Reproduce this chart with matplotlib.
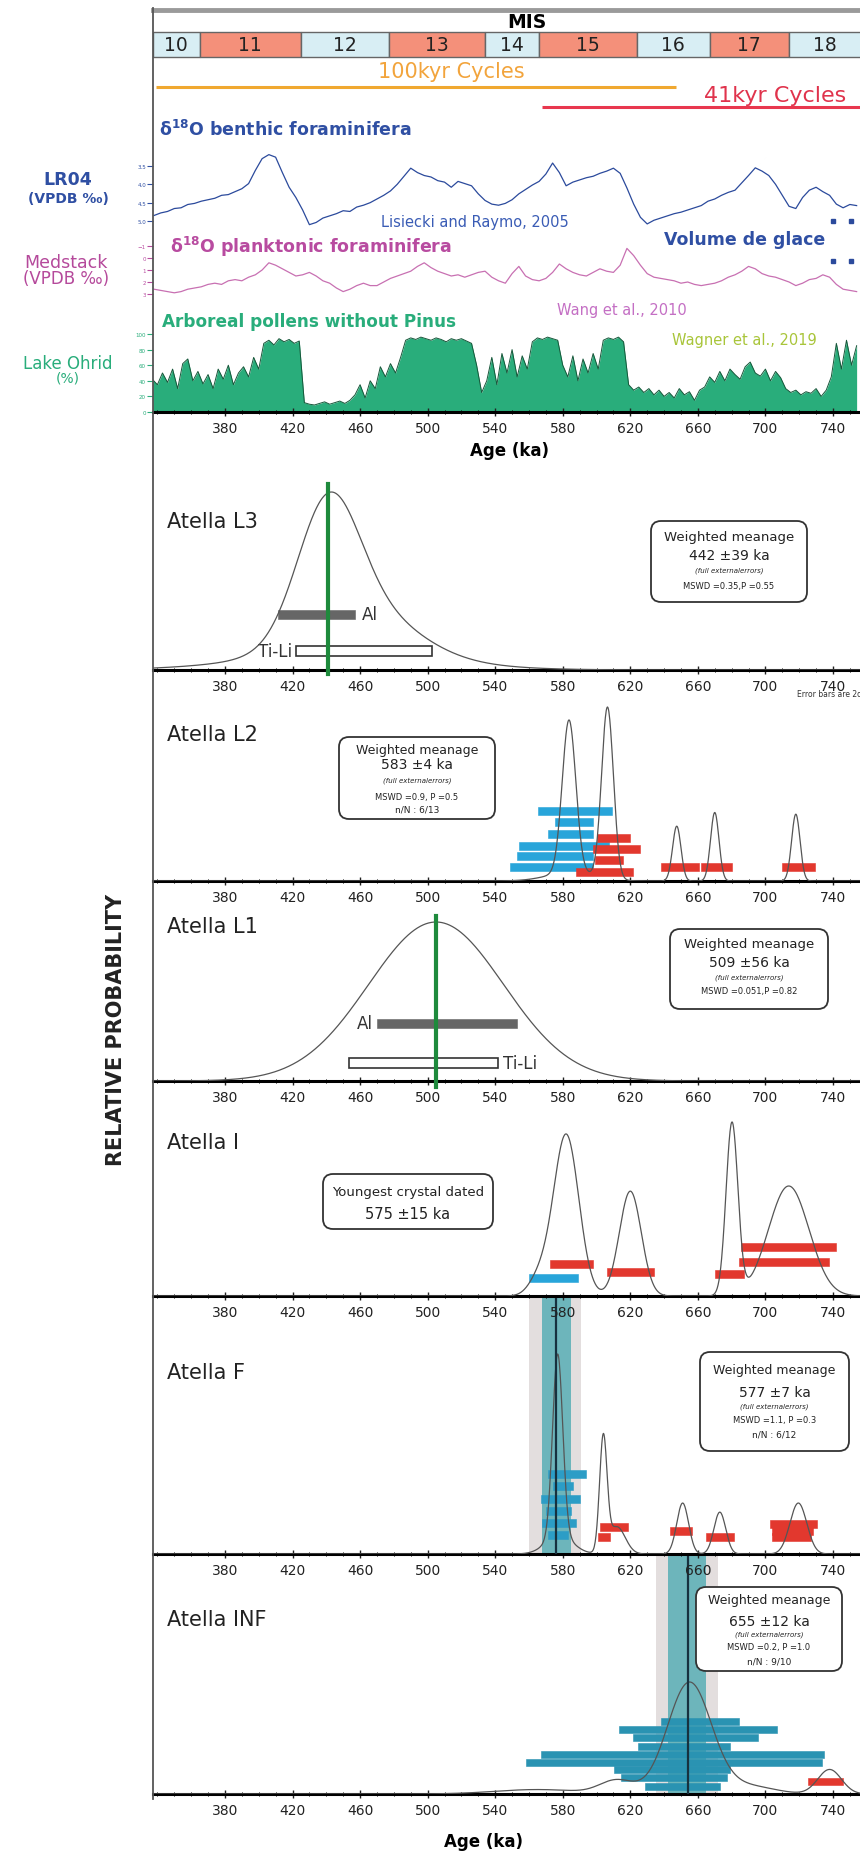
import numpy as np
import matplotlib
matplotlib.use("Agg")
import matplotlib.pyplot as plt
from matplotlib.patches import FancyBboxPatch, Rectangle
from matplotlib.ticker import FixedLocator, MultipleLocator

plt.rcParams["font.family"] = ["DejaVu Sans"]
plt.rcParams["mathtext.fontset"] = "dejavusans"

W, H = 860, 1856
X0, X1 = 337.4, 756.0      # ages at the left axis line and at the right edge

# ---------------- data ----------------
mis_bounds = [337.4, 365, 425, 477, 534, 566, 624, 667, 714, 770]
mis_labels = ["10", "11", "12", "13", "14", "15", "16", "17", "18"]
cycles_100 = [339, 647]
cycles_41 = [568, 760]

lr04_age = np.arange(338, 755, 4)
lr04_d18o = [4.85, 4.78, 4.74, 4.66, 4.64, 4.55, 4.52, 4.46, 4.42, 4.38,
             4.30, 4.28, 4.20, 4.12, 3.98, 3.62, 3.30, 3.19, 3.26, 3.68,
             4.08, 4.36, 4.70, 5.10, 5.04, 4.92, 4.86, 4.80, 4.72, 4.74,
             4.62, 4.57, 4.50, 4.40, 4.30, 4.18, 4.00, 3.78, 3.56, 3.68,
             3.76, 3.80, 3.90, 3.94, 4.08, 3.92, 3.98, 4.04, 4.26, 4.44,
             4.54, 4.57, 4.52, 4.42, 4.26, 4.14, 4.02, 3.92, 3.72, 3.42,
             3.68, 4.04, 3.94, 3.88, 3.82, 3.78, 3.70, 3.64, 3.56, 3.70,
             4.10, 4.54, 4.90, 5.08, 4.98, 4.92, 4.86, 4.80, 4.76, 4.70,
             4.64, 4.58, 4.46, 4.40, 4.30, 4.22, 4.16, 3.96, 3.76, 3.55,
             3.64, 3.76, 4.00, 4.30, 4.60, 4.66, 4.36, 4.16, 4.08, 4.20,
             4.30, 4.54, 4.64, 4.55, 4.58]

med_age = np.arange(338, 755, 4)
med_d18o = [2.6, 2.7, 2.8, 2.9, 2.8, 2.6, 2.5, 2.4, 2.2, 2.1,
            2.2, 1.9, 1.8, 1.9, 1.6, 1.4, 1.0, 0.4, 0.6, 0.9,
            1.2, 1.5, 1.4, 1.2, 1.5, 1.9, 2.1, 2.5, 2.8, 2.6,
            2.3, 2.1, 2.3, 2.3, 2.0, 1.7, 1.5, 1.3, 1.1, 0.7,
            0.4, 0.8, 1.1, 1.3, 1.5, 1.4, 1.6, 1.4, 1.2, 1.1,
            1.6, 1.9, 2.1, 1.3, 0.7, 1.5, 1.8, 1.9, 1.7, 1.2,
            0.5, 0.9, 1.2, 1.4, 1.5, 1.2, 0.9, 1.1, 1.2, 0.6,
            -0.8, -0.2, 0.6, 1.3, 1.6, 1.7, 1.8, 1.9, 2.1, 2.0,
            2.2, 2.3, 2.2, 2.1, 1.9, 1.6, 1.4, 1.1, 0.7, 0.9,
            1.3, 1.5, 1.6, 1.8, 2.0, 2.3, 2.1, 1.8, 1.7, 1.4,
            1.6, 2.2, 2.6, 2.7, 2.8]

pollen_age = np.arange(337, 755, 3)
pollen_ap = [42, 35, 50, 38, 55, 30, 62, 68, 40, 52,
             36, 48, 30, 55, 42, 60, 35, 50, 58, 45,
             70, 55, 88, 92, 86, 94, 90, 93, 88, 91,
             12, 10, 9, 11, 13, 10, 12, 14, 11, 15,
             22, 35, 18, 40, 30, 58, 45, 62, 50, 70,
             92, 95, 93, 96, 94, 92, 95, 93, 90, 94,
             92, 94, 91, 88, 60, 25, 40, 70, 35, 75,
             50, 80, 45, 72, 55, 90, 95, 93, 96, 94,
             92, 60, 45, 72, 40, 68, 50, 75, 55, 92,
             95, 93, 96, 90, 35, 28, 32, 25, 30, 22,
             28, 20, 25, 18, 30, 22, 26, 15, 28, 32,
             45, 38, 52, 40, 55, 48, 42, 58, 64, 50,
             46, 55, 40, 52, 44, 30, 25, 28, 22, 26,
             24, 30, 20, 28, 45, 88, 55, 92, 60, 85]

age_ticks = [380, 420, 460, 500, 540, 580, 620, 660, 700, 740]

# probability peaks: (age, sigma, relative height)
l3_peaks = [(441, 18, 0.8), (462, 30, 0.28), (450, 55, 0.1)]
l2_peaks = [(583.7, 4.0, 0.89), (606.5, 3.5, 1.0), (647.5, 2.5, 0.32),
            (670, 2.5, 0.40), (718, 2.5, 0.39), (585, 14, 0.05)]
l1_peaks = [(505, 40, 1.0)]
i_peaks = [(582, 7.5, 0.94), (566, 6, 0.1), (620, 6.5, 0.61),
           (680.2, 3.5, 1.0), (713.8, 12, 0.64)]
f_peaks = [(577, 3.0, 1.0), (578, 8, 0.10), (604, 2.2, 0.62), (612, 5, 0.15),
           (651, 3.5, 0.28), (673, 3.5, 0.23), (719.5, 5, 0.28)]
inf_peaks = [(655, 13, 1.0), (612, 10, 0.12), (565, 25, 0.04),
             (690, 15, 0.07), (738, 7, 0.22)]

# single ages (2 sigma spans)
l3_al, l3_tili, l3_mean = (411.6, 456.9), (421.9, 502.5), 441
l1_al, l1_tili, l1_mean = (470.3, 552.9), (453.5, 541.7), 505

l2_cyan = [(565.5, 608.9), (575.3, 597.7), (571.1, 597.7), (554.3, 607.5),
           (552.9, 597.7), (548.7, 597.7)]
l2_red = [(600.5, 620.0), (597.7, 625.7), (599.1, 615.9), (587.9, 621.5),
          (638.3, 660.7), (662.0, 680.2), (709.6, 729.2)]
i_cyan = [(559.9, 589.3)]
i_red = [(572.5, 597.7), (606.1, 634.1), (670.4, 687.2), (685.8, 741.8),
         (684.4, 737.6)]
f_cyan = [(571, 593.5), (574, 586), (567, 590), (570, 585), (568, 588), (571, 583)]
f_red = [(601.9, 618.7), (601, 608), (643.8, 656.4), (664.8, 681.6),
         (702.6, 730.6), (704, 728), (704, 727)]
inf_cyan = [(638.3, 684.4), (613.1, 706.8), (621.5, 695.6), (624.3, 678.9),
            (566.9, 734.8), (558.5, 733.4), (610.3, 678.9), (614.5, 677.4),
            (628.5, 673.2)]
inf_red = [(725, 746)]

f_mean, f_band, f_band2 = 576, (560, 591), (567.5, 585)
inf_mean, inf_band, inf_band2 = 654, (635.5, 672), (642.5, 665)

l3_box = ["Weighted meanage", "442 ±39 ka", "(full externalerrors)", "MSWD =0.35,P =0.55"]
l2_box = ["Weighted meanage", "583 ±4 ka", "(full externalerrors)", "MSWD =0.9, P =0.5", "n/N : 6/13"]
l1_box = ["Weighted meanage", "509 ±56 ka", "(full externalerrors)", "MSWD =0.051,P =0.82"]
i_box = ["Youngest crystal dated", "575 ±15 ka"]
f_box = ["Weighted meanage", "577 ±7 ka", "(full externalerrors)", "MSWD =1.1, P =0.3", "n/N : 6/12"]
inf_box = ["Weighted meanage", "655 ±12 ka", "(full externalerrors)", "MSWD =0.2, P =1.0", "n/N : 9/10"]

panel_names = ["Atella L3", "Atella L2", "Atella L1", "Atella I", "Atella F", "Atella INF"]

# ---------------- layout (pixels) ----------------
panel_top = [455, 700, 898, 1100, 1299, 1557]
panel_axis = [671, 882, 1082, 1297, 1555, 1795]
panel_peak = [493, 708, 923, 1123, 1355, 1683]
title_y = [522, 735, 927, 1143, 1373, 1620]

CYAN = "#28A5DA"
RED = "#E2382E"
BLUE = "#2F4FA3"
PINK = "#B84BA0"
GREEN = "#29AD7B"

fig = plt.figure(figsize=(W / 100, H / 100), dpi=100)


def px_axes(top, bottom, left=153, right=860):
    return fig.add_axes([left / W, 1 - bottom / H, (right - left) / W, (bottom - top) / H])


def style_age_axis(ax):
    for s in ("top", "right", "left"):
        ax.spines[s].set_visible(False)
    ax.spines["bottom"].set_linewidth(2.2)
    ax.xaxis.set_major_locator(FixedLocator(age_ticks))
    ax.xaxis.set_minor_locator(MultipleLocator(10))
    ax.tick_params(axis="x", which="major", direction="inout", length=6, width=1,
                   labelsize=10, pad=3.5, colors="#222222")
    ax.tick_params(axis="x", which="minor", direction="inout", length=3.5, width=0.7)
    ax.set_yticks([])
    ax.set_xlim(X0, X1)
    ax.patch.set_alpha(0)


def pdf_curve(peaks):
    grid = np.linspace(X0, X1, 1600)
    dens = np.zeros_like(grid)
    for mu, sd, h in peaks:
        dens += h * np.exp(-0.5 * ((grid - mu) / sd) ** 2)
    return grid, dens / dens.max()


def bars(ax, spans, levels, color, height=8, ec=None, lw=0.4):
    lo = np.array([s[0] for s in spans])
    hi = np.array([s[1] for s in spans])
    ax.barh(levels, hi - lo, left=lo, height=height, color=color,
            edgecolor=ec if ec else color, linewidth=lw, zorder=4)


# overlay in pixel units for frame, texts and boxes
ov = fig.add_axes([0, 0, 1, 1], zorder=50)
ov.set_xlim(0, W)
ov.set_ylim(H, 0)
ov.axis("off")
ov.patch.set_alpha(0)


def info_box(x0, y0, x1, y1, lines, rows, sizes, styles):
    ov.add_patch(FancyBboxPatch((x0, y0), x1 - x0, y1 - y0,
                                boxstyle="round,pad=0,rounding_size=10",
                                fc="white", ec="#333333", lw=1.3))
    for s, y, fs, st in zip(lines, rows, sizes, styles):
        ov.text((x0 + x1) / 2, y, s, ha="center", va="center", fontsize=fs,
                style=st, color="#222222")


# ---------------- MIS strip and cycles ----------------
top = px_axes(0, 118)
top.set_xlim(X0, X1)
top.set_ylim(118, 0)
top.axis("off")
for (a, b), lab in zip(zip(mis_bounds[:-1], mis_bounds[1:]), mis_labels):
    fc = "#F4907A" if int(lab) % 2 else "#D8EEF4"
    top.add_patch(Rectangle((a, 33), b - a, 25, fc=fc, ec="#666666", lw=1.0))
    top.text((a + min(b, X1)) / 2, 45.5, lab, ha="center", va="center",
             fontsize=13.5, color="#222222")
top.plot(cycles_100, [88, 88], color="#F0A830", lw=2.2, solid_capstyle="butt")
top.plot(cycles_41, [108, 108], color="#E8374E", lw=2.2, solid_capstyle="butt")

ov.plot([153, 860], [11, 11], color="#9A9A9A", lw=3.5)
ov.plot([153, 153], [9, 1800], color="#555555", lw=1.3)
ov.text(527, 23, "MIS", ha="center", va="center", fontsize=13.5, fontweight="bold")
ov.text(451, 72, "100kyr Cycles", ha="center", va="center", fontsize=15, color="#F2A43C")
ov.text(704, 96, "41kyr Cycles", ha="left", va="center", fontsize=16, color="#E0334C")

# ---------------- LR04 ----------------
ax_lr = px_axes(140, 232)
ax_lr.plot(lr04_age, lr04_d18o, color="#2B4A9C", lw=0.9)
ax_lr.set_xlim(X0, X1)
ax_lr.set_ylim(5.273, 2.764)
ax_lr.set_yticks([3.5, 4.0, 4.5, 5.0])
ax_lr.tick_params(axis="y", length=4, width=0.8, labelsize=4, colors=BLUE, pad=1)
ax_lr.set_xticks([])
for s in ax_lr.spines.values():
    s.set_visible(False)
ax_lr.patch.set_alpha(0)

# ---------------- Medstack ----------------
ax_md = px_axes(238, 302)
ax_md.plot(med_age, med_d18o, color="#C870B2", lw=0.9)
ax_md.set_xlim(X0, X1)
ax_md.set_ylim(3.583, -1.75)
ax_md.set_yticks([-1, 0, 1, 2, 3])
ax_md.tick_params(axis="y", length=4, width=0.8, labelsize=4, colors=PINK, pad=1)
ax_md.set_xticks([])
for s in ax_md.spines.values():
    s.set_visible(False)
ax_md.patch.set_alpha(0)

# ---------------- Lake Ohrid pollen ----------------
ax_po = px_axes(330, 413)
ax_po.fill_between(pollen_age, 0, pollen_ap, color=GREEN, lw=0)
ax_po.plot(pollen_age, pollen_ap, color="#17573A", lw=0.7)
style_age_axis(ax_po)
ax_po.set_ylim(0, 106.4)
ax_po.set_yticks([0, 20, 40, 60, 80, 100])
ax_po.tick_params(axis="y", length=4, width=0.8, labelsize=4, colors=GREEN, pad=1)

# labels of the top section
ov.text(159, 130, "δ$^{\\mathbf{18}}$O benthic foraminifera", fontsize=12.5,
        fontweight="bold", color=BLUE, va="center")
ov.text(68, 180, "LR04", fontsize=12.5, fontweight="bold", color=BLUE, ha="center", va="center")
ov.text(68, 199, "(VPDB ‰)", fontsize=10, fontweight="bold", color=BLUE, ha="center", va="center")
ov.text(381, 222, "Lisiecki and Raymo, 2005", fontsize=10.5, color="#3A5CB5", va="center")
ov.text(664, 240, "Volume de glace", fontsize=12.5, fontweight="bold", color=BLUE, va="center")
ov.plot([833, 851], [222, 222], ls="none", marker="s", ms=2.5, color="#2B4A9C")
ov.plot([833, 851], [262, 262], ls="none", marker="s", ms=2.5, color="#2B4A9C")
ov.text(170, 247, "δ$^{\\mathbf{18}}$O planktonic foraminifera", fontsize=12.5,
        fontweight="bold", color=PINK, va="center")
ov.text(66, 263, "Medstack", fontsize=12.5, color="#B5499B", ha="center", va="center")
ov.text(66, 279, "(VPDB ‰)", fontsize=12, color="#B5499B", ha="center", va="center")
ov.text(557, 310, "Wang et al., 2010", fontsize=10.5, color="#C46FC4", va="center")
ov.text(162, 322, "Arboreal pollens without Pinus", fontsize=12.2, fontweight="bold",
        color=GREEN, va="center")
ov.text(672, 340, "Wagner et al., 2019", fontsize=10.5, color="#A9C53A", va="center")
ov.text(68, 364, "Lake Ohrid", fontsize=12, color=GREEN, ha="center", va="center")
ov.text(68, 378, "(%)", fontsize=10, color=GREEN, ha="center", va="center")
ov.text(509, 451, "Age (ka)", fontsize=12, fontweight="bold", ha="center", va="center")

# ---------------- dating panels ----------------
peaks = [l3_peaks, l2_peaks, l1_peaks, i_peaks, f_peaks, inf_peaks]
axes = []
for k in range(6):
    ax = px_axes(panel_top[k], panel_axis[k])
    ax.set_zorder(20 - k)
    style_age_axis(ax)
    ax.set_ylim(0, panel_axis[k] - panel_top[k])
    grid, dens = pdf_curve(peaks[k])
    ax.plot(grid, dens * (panel_axis[k] - panel_peak[k]), color="#555555", lw=0.9, zorder=5)
    ov.text(167, title_y[k], panel_names[k], fontsize=15, va="center", color="#222222")
    axes.append(ax)

# Atella L3
ax = axes[0]
ax.plot([l3_mean, l3_mean], [-4, 186], color="#1E8A3C", lw=3, zorder=6, clip_on=False)
bars(ax, [l3_al], [56], "#666666", height=9)
bars(ax, [l3_tili], [19], "white", height=10, ec="#333333", lw=1.2)
ax.text(l3_al[1] + 4, 56, "Al", fontsize=12, va="center", color="#333333")
ax.text(l3_tili[0] - 2, 19, "Ti-Li", fontsize=12, va="center", ha="right", color="#333333")
info_box(651, 522, 807, 603, l3_box, [538, 556, 571, 587], [9.5, 10, 5, 6],
         ["normal", "normal", "italic", "normal"])
ov.text(797, 695, "Error bars are 2σ", fontsize=5.5, va="center", color="#333333")

# Atella L2
ax = axes[1]
bars(ax, l2_cyan, [70, 59, 47, 35, 25, 14], CYAN)
bars(ax, l2_red, [43, 32, 21, 9, 14, 14, 14], RED)
info_box(339, 738, 495, 820, l2_box, [751, 765, 781, 798, 810], [9, 10, 5, 6, 6.5],
         ["normal", "normal", "italic", "normal", "normal"])

# Atella L1
ax = axes[2]
ax.plot([l1_mean, l1_mean], [-6, 165], color="#1E8A3C", lw=3, zorder=6, clip_on=False)
bars(ax, [l1_al], [58], "#666666", height=9)
bars(ax, [l1_tili], [18], "white", height=10, ec="#333333", lw=1.2)
ax.text(l1_al[0] - 3, 58, "Al", fontsize=12, va="center", ha="right", color="#333333")
ax.text(l1_tili[1] + 3, 18, "Ti-Li", fontsize=12, va="center", color="#333333")
info_box(670, 930, 828, 1010, l1_box, [945, 963, 978, 992], [9.5, 10, 5, 6],
         ["normal", "normal", "italic", "normal"])

# Atella I
ax = axes[3]
bars(ax, i_cyan, [18], CYAN)
bars(ax, i_red, [32, 24, 22, 49, 34], RED)
info_box(323, 1175, 493, 1230, i_box, [1193, 1215], [9.5, 10.5], ["normal", "normal"])

# Atella F
ax = axes[4]
ax.axvspan(*f_band, color="#E3DEDE", lw=0, zorder=1)
ax.axvspan(*f_band2, color="#6DB5BB", lw=0, zorder=2)
ax.axvline(f_mean, color="#17313F", lw=1.6, zorder=6)
bars(ax, f_cyan, [80, 68, 55, 43, 31, 19], "#2C9DC6")
bars(ax, f_red, [27, 17, 23, 17, 30, 23, 17], RED)
info_box(700, 1353, 849, 1452, f_box, [1371, 1393, 1407, 1421, 1435], [9, 10, 5, 6, 6.5],
         ["normal", "normal", "italic", "normal", "normal"])

# Atella INF
ax = axes[5]
ax.axvspan(*inf_band, color="#E3DEDE", lw=0, zorder=1)
ax.axvspan(*inf_band2, color="#6DB5BB", lw=0, zorder=2)
ax.axvline(inf_mean, color="#17313F", lw=1.6, zorder=6)
bars(ax, inf_cyan, [73, 65, 57, 48, 40, 32, 25, 17, 8], "#2A93B2", height=7)
bars(ax, inf_red, [13], RED, height=7)
info_box(696, 1588, 842, 1672, inf_box, [1601, 1622, 1635, 1648, 1662], [9, 10, 5, 6, 6.5],
         ["normal", "normal", "italic", "normal", "normal"])

ov.text(116, 1030, "RELATIVE PROBABILITY", rotation=90, fontsize=15, fontweight="bold",
        ha="center", va="center", color="#222222")
ov.text(483, 1842, "Age (ka)", fontsize=12, fontweight="bold", ha="center", va="center")

fig.savefig("out.png", dpi=100)
plt.close(fig)
